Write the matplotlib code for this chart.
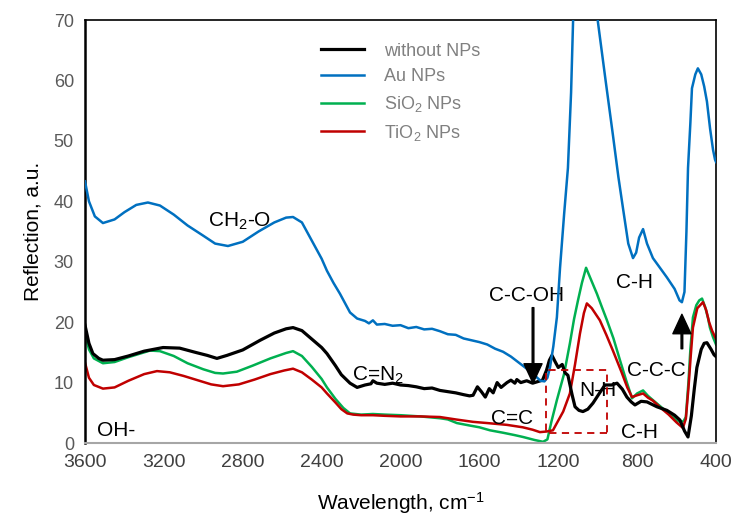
import numpy as np
import matplotlib
matplotlib.use('Agg')
import matplotlib.pyplot as plt
from matplotlib.patches import Rectangle

plt.rcParams['font.family'] = ['Liberation Sans', 'DejaVu Sans']
plt.rcParams['mathtext.fontset'] = 'custom'
plt.rcParams['mathtext.rm'] = 'Liberation Sans'
plt.rcParams['mathtext.it'] = 'Liberation Sans:italic'

# ---- data (wavenumber, cm-1 / reflection, a.u.) ----
w_none = [3600, 3580, 3560, 3530, 3509, 3450, 3380, 3300, 3204, 3120, 3040, 2980, 2931, 2880, 2800,
          2712, 2640, 2580, 2545, 2500, 2450, 2400, 2373, 2330, 2300, 2256, 2220, 2180, 2150, 2140,
          2120, 2080, 2040, 2000, 1960, 1920, 1880, 1840, 1800, 1760, 1720, 1680, 1650, 1632, 1610,
          1590, 1570, 1550, 1530, 1510, 1490, 1460, 1440, 1420, 1410, 1390, 1360, 1330, 1300, 1280,
          1260, 1245, 1232, 1215, 1200, 1180, 1165, 1151, 1130, 1115, 1095, 1075, 1050, 1024, 990,
          963, 930, 902, 875, 852, 830, 811, 780, 750, 700, 649, 610, 583, 560, 542, 525, 510, 497,
          475, 460, 446, 425, 410, 400]
r_none = [19.5, 16.5, 14.8, 14.0, 13.7, 13.8, 14.4, 15.2, 15.8, 15.7, 15.0, 14.5, 14.0, 14.5, 15.4,
          17.0, 18.2, 18.9, 19.1, 18.6, 17.2, 15.8, 14.8, 12.8, 11.3, 9.9, 9.2, 9.6, 9.8, 10.3,
          9.9, 9.7, 9.9, 9.6, 9.5, 9.3, 9.0, 9.1, 8.7, 8.5, 8.3, 8.0, 7.8, 7.9, 9.3,
          8.5, 7.6, 9.0, 8.3, 10.0, 9.2, 10.0, 10.4, 9.9, 10.5, 10.0, 10.3, 9.9, 10.2, 10.4,
          12.0, 13.7, 14.5, 13.4, 12.5, 13.0, 11.6, 11.2, 8.0, 6.0, 5.4, 5.2, 5.6, 6.6, 8.3,
          9.6, 9.6, 9.9, 8.9, 7.6, 6.8, 6.3, 6.9, 6.8, 6.0, 5.4, 4.6, 3.8, 2.0, 1.0, 4.5, 9.0, 12.5,
          15.5, 16.5, 16.6, 15.5, 14.6, 14.3]

w_au = [3600, 3580, 3550, 3509, 3450, 3400, 3340, 3281, 3220, 3150, 3080, 3000, 2940, 2875, 2800,
        2720, 2640, 2580, 2545, 2500, 2450, 2400, 2373, 2340, 2307, 2256, 2220, 2180, 2160, 2140,
        2120, 2080, 2040, 2000, 1960, 1920, 1880, 1840, 1800, 1760, 1720, 1680, 1640, 1600, 1560,
        1520, 1480, 1440, 1400, 1360, 1320, 1290, 1270, 1255, 1242, 1225, 1207, 1191, 1170, 1151,
        1135, 1125, 1110, 1080, 1050, 1020, 999, 960, 923, 895, 872, 845, 821, 805, 790,
        770, 750, 720, 680, 649, 610, 585, 573, 560, 550, 542, 530, 522, 505, 492,
        475, 460, 446, 430, 415, 405, 400]
r_au = [43.3, 40.0, 37.5, 36.4, 37.0, 38.2, 39.4, 39.8, 39.3, 37.8, 36.0, 34.3, 33.0, 32.6, 33.3,
        35.0, 36.5, 37.3, 37.4, 36.5, 33.5, 30.5, 28.5, 26.5, 24.7, 21.6, 20.6, 20.2, 19.8, 20.3,
        19.6, 19.7, 19.4, 19.5, 19.0, 19.2, 18.8, 18.9, 18.5, 18.0, 17.9, 17.3, 17.0, 16.7, 16.3,
        15.6, 15.1, 14.3, 13.3, 12.3, 11.2, 10.3, 10.2, 10.8, 12.5, 16.0, 20.8, 29.0, 38.0, 45.5,
        58.0, 69.7, 80.0, 88.0, 87.0, 80.0, 69.7, 60.0, 51.0, 44.0, 38.9, 33.0, 30.6, 31.5, 34.0,
        35.4, 33.0, 30.6, 28.8, 27.4, 25.5, 23.6, 23.3, 25.0, 35.0, 45.5, 53.0, 58.7, 61.0, 62.0,
        61.0, 59.0, 56.5, 52.0, 48.5, 46.9, 46.5]

w_sio2 = [3600, 3580, 3555, 3509, 3450, 3380, 3300, 3270, 3220, 3150, 3080, 3000, 2940, 2900, 2830,
          2750, 2660, 2580, 2545, 2500, 2450, 2400, 2373, 2330, 2290, 2256, 2200, 2140, 2080, 2000,
          1900, 1800, 1760, 1714, 1650, 1600, 1546, 1480, 1420, 1379, 1320, 1277, 1255, 1235, 1207,
          1170, 1141, 1120, 1100, 1080, 1059, 1040, 1004, 980, 953, 920, 887, 855, 826, 800,
          770, 745, 720, 680, 640, 600, 583, 565, 553, 540, 530, 517, 500, 485, 471,
          455, 440, 431, 415, 400]
r_sio2 = [18.1, 15.5, 14.0, 13.2, 13.4, 14.2, 15.0, 15.3, 15.2, 14.4, 13.2, 12.2, 11.6, 11.5, 11.8,
          12.8, 14.0, 14.9, 15.2, 14.4, 12.6, 10.6, 9.2, 7.3, 5.8, 4.9, 4.7, 4.8, 4.7, 4.6,
          4.4, 4.1, 3.9, 3.3, 2.9, 2.6, 2.1, 1.7, 1.3, 1.0, 0.5, 0.2, 0.6, 3.5, 7.1,
          11.5, 16.5, 20.5, 23.6, 26.5, 29.0, 27.5, 24.7, 22.6, 20.3, 17.3, 13.7, 10.3, 7.4, 8.2,
          8.7, 7.8, 7.1, 6.0, 4.9, 3.8, 3.5, 3.6, 4.3, 10.0, 15.5, 20.8, 22.8, 23.6, 23.9,
          22.5, 20.6, 19.1, 17.5, 16.3]

w_tio2 = [3600, 3580, 3555, 3509, 3450, 3380, 3300, 3235, 3170, 3100, 3020, 2960, 2900, 2820, 2740,
          2660, 2590, 2545, 2500, 2450, 2400, 2373, 2330, 2300, 2270, 2240, 2200, 2140, 2080, 2000,
          1900, 1800, 1720, 1632, 1560, 1460, 1380, 1330, 1293, 1260, 1227, 1207, 1175, 1141, 1115,
          1090, 1070, 1055, 1030, 989, 955, 923, 880, 850, 826, 800, 770, 745, 720, 680,
          640, 600, 568, 553, 540, 528, 517, 495, 466, 450, 435, 420, 400]
r_tio2 = [13.3, 10.8, 9.6, 9.0, 9.2, 10.3, 11.4, 11.9, 11.7, 11.1, 10.3, 9.7, 9.4, 9.7, 10.5,
          11.4, 12.0, 12.3, 11.7, 10.5, 9.2, 8.2, 6.7, 5.6, 4.9, 4.7, 4.6, 4.6, 4.5, 4.4,
          4.4, 4.3, 3.9, 3.5, 3.3, 3.0, 2.6, 2.2, 1.8, 1.9, 2.1, 3.3, 5.2, 8.2, 13.0,
          18.1, 21.5, 23.1, 22.3, 20.3, 17.8, 15.3, 11.8, 9.2, 7.6, 7.9, 8.2, 7.5, 7.0, 5.8,
          4.7, 3.4, 2.5, 4.0, 9.0, 14.5, 19.1, 22.3, 23.3, 22.0, 20.0, 18.6, 17.2]

x_ticks = [3600, 3200, 2800, 2400, 2000, 1600, 1200, 800, 400]
y_ticks = [0, 10, 20, 30, 40, 50, 60, 70]

fig = plt.figure(figsize=(7.34, 5.21), dpi=100)
ax = fig.add_axes([0.1158, 0.1497, 0.8597, 0.8119])

ax.plot(w_none, r_none, color='black', lw=2.3, label='without NPs', zorder=3)
ax.plot(w_au, r_au, color='#0070C0', lw=1.8, label='Au NPs', zorder=4)
ax.plot(w_sio2, r_sio2, color='#00B050', lw=1.8, label='SiO$_\\mathregular{2}$ NPs', zorder=2)
ax.plot(w_tio2, r_tio2, color='#C00000', lw=1.8, label='TiO$_\\mathregular{2}$ NPs', zorder=2)

ax.set_xlim(3600, 400)
ax.set_ylim(0, 70)
ax.set_xticks(x_ticks)
ax.set_yticks(y_ticks)
ax.tick_params(axis='x', length=0, labelsize=14, labelcolor='#404040', pad=8)
ax.tick_params(axis='y', length=0, labelsize=13, labelcolor='#595959', pad=8)
for s in ['left', 'top', 'right']:
    ax.spines[s].set_color('black')
    ax.spines[s].set_linewidth(1.2)
ax.spines['left'].set_linewidth(1.8)
ax.spines['bottom'].set_color('#a6a6a6')
ax.spines['bottom'].set_linewidth(1.5)

ax.set_xlabel('Wavelength, cm$^\\mathregular{-1}$', fontsize=15, labelpad=14)
ax.set_ylabel('Reflection, a.u.', fontsize=15, labelpad=8)

leg = ax.legend(loc='upper left', bbox_to_anchor=(0.348, 0.985), frameon=False,
                fontsize=13, labelcolor='#808080', handlelength=2.4,
                handletextpad=1.1, labelspacing=0.48)

# band labels
fs = 15
ax.text(2814, 36.7, 'CH$_\\mathregular{2}$-O', fontsize=fs, ha='center', va='center')
ax.text(3539, 2.1, 'OH-', fontsize=fs, ha='left', va='center')
ax.text(2246, 11.2, 'C=N$_\\mathregular{2}$', fontsize=fs, ha='left', va='center')
ax.text(1359, 24.4, 'C-C-OH', fontsize=fs, ha='center', va='center')
ax.text(1435, 4.0, 'C=C', fontsize=fs, ha='center', va='center')
ax.text(999, 8.7, 'N-H', fontsize=fs, ha='center', va='center')
ax.text(811, 26.5, 'C-H', fontsize=fs, ha='center', va='center')
ax.text(700, 12.0, 'C-C-C', fontsize=fs, ha='center', va='center')
ax.text(786, 1.8, 'C-H', fontsize=fs, ha='center', va='center')

ax.annotate('', xy=(1328, 9.9), xytext=(1328, 22.4),
            arrowprops=dict(facecolor='black', edgecolor='black', width=1.2,
                            headwidth=13, headlength=14, shrink=0), zorder=5)
ax.annotate('', xy=(573, 21.3), xytext=(573, 15.6),
            arrowprops=dict(facecolor='black', edgecolor='black', width=1.2,
                            headwidth=13, headlength=14, shrink=0), zorder=5)

ax.add_patch(Rectangle((953, 1.6), 309, 10.4, fill=False, edgecolor='#C00000',
                       linestyle=(0, (4, 3)), linewidth=1.3, zorder=5))

plt.savefig('out.png', dpi=100)
